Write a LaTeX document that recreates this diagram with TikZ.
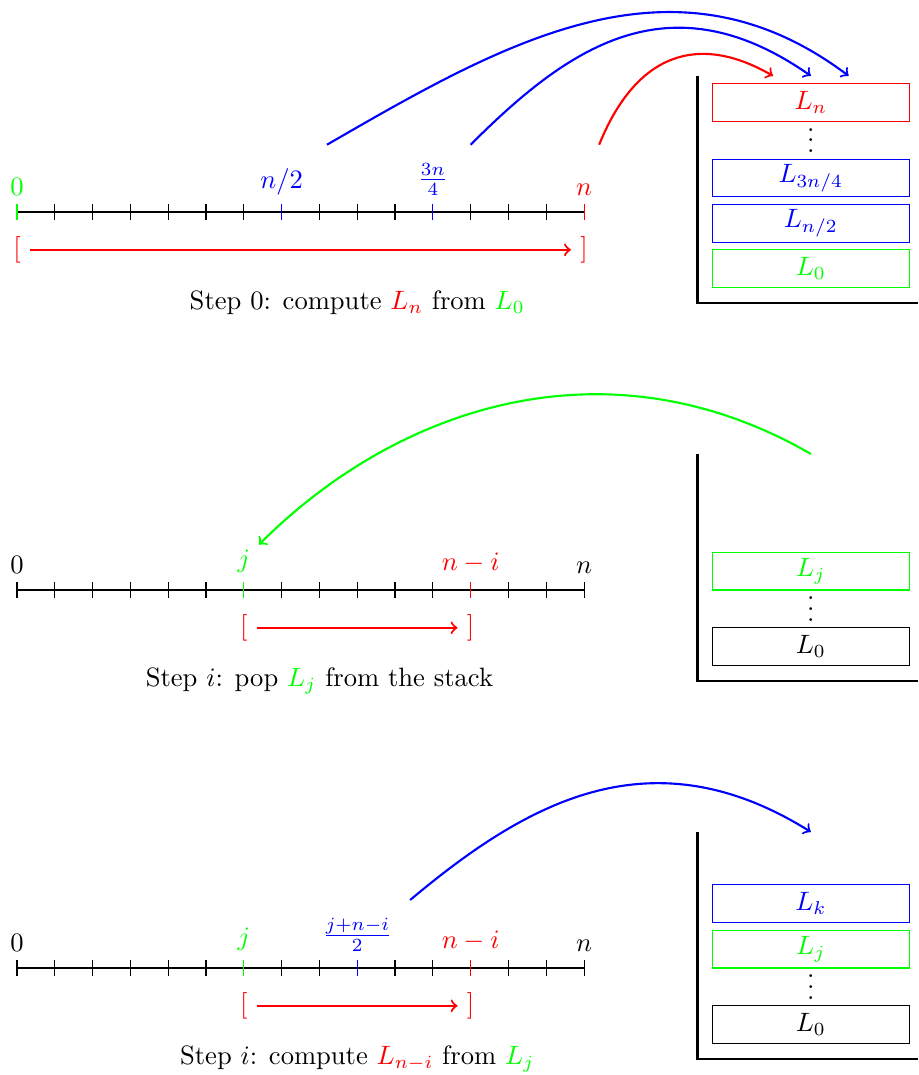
\documentclass[tikz,border=0pt]{standalone}
\usetikzlibrary{calc}
\begin{document}
\begin{tikzpicture}[
  lbl/.style={above},
  brk/.style={red},
  interval/.style={->, red, thick},
  captext/.style={},
  stackline/.style={thick},
  cell/.style={draw, rectangle, minimum width=2.6cm, minimum height=0.5cm, inner sep=0pt},
  dotsnode/.style={inner sep=0pt, text height=9.2pt, text depth=0pt},
  jump/.style={->, thick},
  axisline/.style={thin},
]
\useasboundingbox (-0.225,-11.415) rectangle (11.918,2.804);

% ---------------- Row 1 ----------------
\begin{scope}
\draw[axisline] (0,0) -- (7.5,0);
\foreach \i in {1,2,3,4,5,6,8,9,10,12,13,14} \draw[axisline] (0.5*\i,-0.1) -- (0.5*\i,0.1);
\draw[green] (0,-0.1) -- (0,0.1);
\draw[blue] (3.5,-0.1) -- (3.5,0.1);
\draw[blue] (5.5,-0.1) -- (5.5,0.1);
\draw[red] (7.5,-0.1) -- (7.5,0.1);
\node[lbl,green] (a0) at (0,0.1) {$0$};
\node[lbl,blue] (ahalf) at (3.5,0.1) {$n/2$};
\node[lbl,blue] (aq) at (5.5,0.1) {$\frac{3n}{4}$};
\node[lbl,red] (an) at (7.5,0.1) {$n$};
\node[brk] (alb) at (0,-0.5) {[};
\node[brk] (arb) at (7.5,-0.5) {]};
\draw[interval] (alb) -- (arb);
\node[captext] (acap) at (4.5,-1.2) {Step 0: compute {\color{red}$L_n$} from {\color{green}$L_0$}};
\coordinate (atop) at (9,1.8);
\coordinate (acorner) at (9,-1.2);
\coordinate (aend) at (11.918,-1.2);
\draw[stackline] (atop) -- (acorner) -- (aend);
\node[cell,green] (aL0) at (10.5,-0.75) {$L_0$};
\node[cell,blue] (aLh) at (10.5,-0.15) {$L_{n/2}$};
\node[cell,blue] (aLq) at (10.5,0.45) {$L_{3n/4}$};
\node[dotsnode] (adots) at (10.5,0.95) {$\vdots$};
\node[cell,red] (aLn) at (10.5,1.45) {$L_n$};
\coordinate (as1) at (4.1,0.89);
\coordinate (at1) at (11.0,1.8);
\coordinate (as2) at (6.0,0.89);
\coordinate (at2) at (10.5,1.8);
\coordinate (as3) at (7.7,0.89);
\coordinate (at3) at (10.0,1.8);
\draw[jump,blue] (as1) to[out=30,in=143,out distance=2.7cm,in distance=2.9cm] (at1);
\draw[jump,blue] (as2) to[out=45,in=145,out distance=1.8cm,in distance=2.3cm] (at2);
\draw[jump,red] (as3) to[out=68,in=150,out distance=1.3cm,in distance=1.15cm] (at3);
\end{scope}

% ---------------- Row 2 ----------------
\begin{scope}[yshift=-5cm]
\draw[axisline] (0,0) -- (7.5,0);
\foreach \i in {0,1,2,3,4,5,7,8,9,10,11,13,14,15} \draw[axisline] (0.5*\i,-0.1) -- (0.5*\i,0.1);
\draw[green] (3,-0.1) -- (3,0.1);
\draw[red] (6,-0.1) -- (6,0.1);
\node[lbl] (b0) at (0,0.1) {$0$};
\node[lbl,green] (bj) at (3,0.1) {$j$};
\node[lbl,red] (bni) at (6,0.1) {$n-i$};
\node[lbl] (bn) at (7.5,0.1) {$n$};
\node[brk] (blb) at (3,-0.5) {[};
\node[brk] (brb) at (6,-0.5) {]};
\draw[interval] (blb) -- (brb);
\node[captext] (bcap) at (4.0,-1.2) {Step $i$: pop {\color{green}$L_j$} from the stack};
\coordinate (btop) at (9,1.8);
\coordinate (bcorner) at (9,-1.2);
\coordinate (bend) at (11.918,-1.2);
\draw[stackline] (btop) -- (bcorner) -- (bend);
\node[cell] (bL0) at (10.5,-0.75) {$L_0$};
\node[dotsnode] (bdots) at (10.5,-0.25) {$\vdots$};
\node[cell,green] (bLj) at (10.5,0.25) {$L_j$};
\coordinate (bs) at (10.5,1.8);
\coordinate (bt) at (3.2,0.6);
\draw[jump,green] (bs) to[out=150,in=45,out distance=3.1cm,in distance=2.6cm] (bt);
\end{scope}

% ---------------- Row 3 ----------------
\begin{scope}[yshift=-10cm]
\draw[axisline] (0,0) -- (7.5,0);
\foreach \i in {0,1,2,3,4,5,7,8,10,11,13,14,15} \draw[axisline] (0.5*\i,-0.1) -- (0.5*\i,0.1);
\draw[green] (3,-0.1) -- (3,0.1);
\draw[blue] (4.5,-0.1) -- (4.5,0.1);
\draw[red] (6,-0.1) -- (6,0.1);
\node[lbl] (c0) at (0,0.1) {$0$};
\node[lbl,green] (cj) at (3,0.1) {$j$};
\node[lbl,blue] (cm) at (4.5,0.1) {$\frac{j+n-i}{2}$};
\node[lbl,red] (cni) at (6,0.1) {$n-i$};
\node[lbl] (cn) at (7.5,0.1) {$n$};
\node[brk] (clb) at (3,-0.5) {[};
\node[brk] (crb) at (6,-0.5) {]};
\draw[interval] (clb) -- (crb);
\node[captext] (ccap) at (4.5,-1.2) {Step $i$: compute {\color{red}$L_{n-i}$} from {\color{green}$L_j$}};
\coordinate (ctop) at (9,1.8);
\coordinate (ccorner) at (9,-1.2);
\coordinate (cend) at (11.918,-1.2);
\draw[stackline] (ctop) -- (ccorner) -- (cend);
\node[cell] (cL0) at (10.5,-0.75) {$L_0$};
\node[dotsnode] (cdots) at (10.5,-0.25) {$\vdots$};
\node[cell,green] (cLj) at (10.5,0.25) {$L_j$};
\node[cell,blue] (cLk) at (10.5,0.85) {$L_k$};
\coordinate (cs) at (5.2,0.9);
\coordinate (ct) at (10.5,1.8);
\draw[jump,blue] (cs) to[out=40,in=148,out distance=2.0cm,in distance=2.5cm] (ct);
\end{scope}
\end{tikzpicture}
\end{document}
